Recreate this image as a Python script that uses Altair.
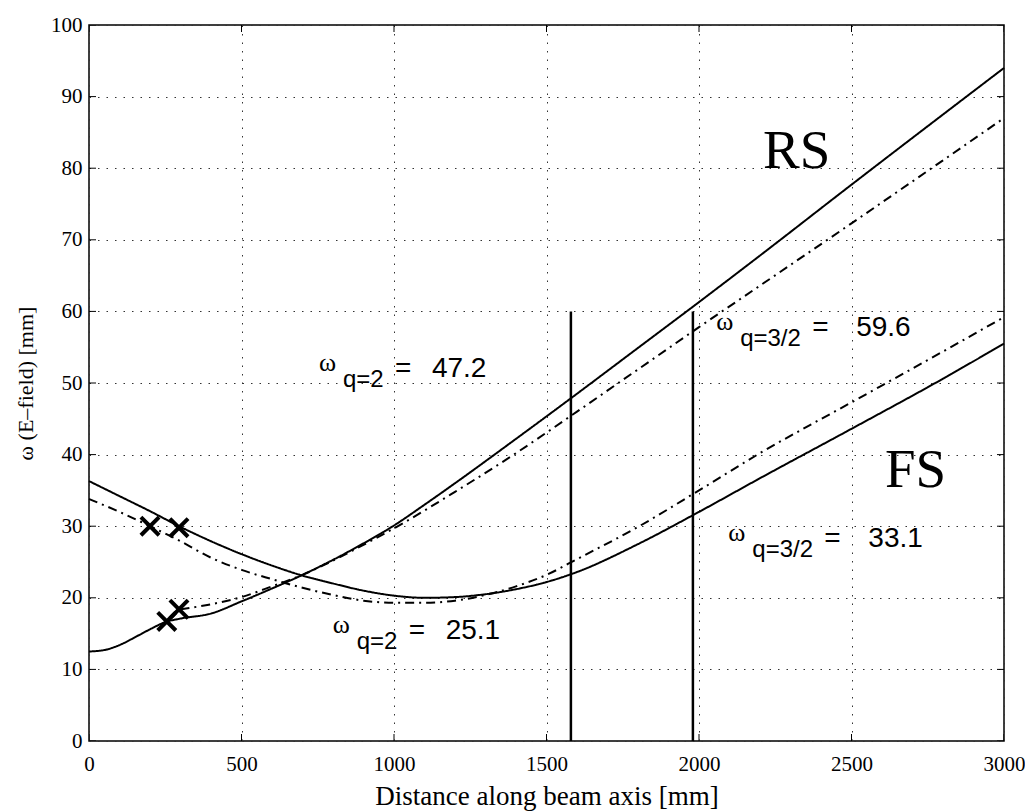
import altair as alt
import pandas as pd

# ---------------- data ----------------
rs_solid_x = [0, 50, 100, 160, 200, 250, 300, 400, 500, 600, 700, 800, 900, 1000, 1100,
              1200, 1400, 1600, 1800, 2000, 2200, 2500, 2800, 3000]
rs_solid_y = [12.5, 12.7, 13.4, 14.7, 15.6, 16.6, 17.1, 17.8, 19.5, 21.3, 23.2, 25.3, 27.6, 30.1, 33.0,
              36.0, 42.2, 48.5, 54.9, 61.3, 67.8, 77.7, 87.5, 94.0]

rs_dash_x = [300, 400, 500, 600, 700, 800, 900, 1000, 1200, 1400, 1600, 1800, 2000,
             2200, 2500, 2800, 3000]
rs_dash_y = [18.4, 19.1, 20.1, 21.6, 23.2, 25.2, 27.4, 29.7, 34.8, 40.2, 46.0, 51.9, 57.8,
             63.6, 72.3, 81.1, 87.0]

fs_solid_x = [0, 100, 200, 300, 400, 500, 600, 700, 800, 900, 1000, 1100, 1200, 1300,
              1400, 1500, 1600, 1800, 2000, 2200, 2500, 2800, 3000]
fs_solid_y = [36.3, 34.2, 32.1, 29.9, 27.9, 26.1, 24.5, 23.1, 22.0, 21.0, 20.3, 20.0, 20.1, 20.5,
              21.2, 22.2, 23.6, 27.5, 32.0, 36.7, 43.6, 50.6, 55.5]

fs_dash_x = [0, 100, 200, 300, 400, 500, 600, 700, 800, 900, 1000, 1100, 1200, 1300,
             1400, 1500, 1600, 1800, 2000, 2200, 2500, 2800, 3000]
fs_dash_y = [33.8, 32.0, 30.0, 27.9, 25.6, 23.9, 22.6, 21.4, 20.4, 19.6, 19.3, 19.3, 19.6, 20.4,
             21.6, 23.2, 25.4, 29.9, 35.0, 40.2, 47.3, 54.4, 59.2]

marker_x = [200, 295, 255, 295]
marker_y = [30.0, 29.8, 16.7, 18.4]

vline_x = [1580, 1980]
vline_top = [60, 60]

ann_x = [1003, 2371, 1048, 2411]
ann_y = [50.9, 56.5, 14.3, 27.1]
ann_sub = ["q=2", "q=3/2", "q=2", "q=3/2"]
ann_val = ["47.2", "59.6", "25.1", "33.1"]

label_text = ["RS", "FS"]
label_x = [2320, 2710]
label_y = [80.0, 35.5]

x_ticks = [0, 500, 1000, 1500, 2000, 2500, 3000]
y_ticks = [0, 10, 20, 30, 40, 50, 60, 70, 80, 90, 100]

# ---------------- tables ----------------
rows = []
for name, style, xs, ys in [("rs_solid", "solid", rs_solid_x, rs_solid_y),
                            ("rs_dash", "dashdot", rs_dash_x, rs_dash_y),
                            ("fs_solid", "solid", fs_solid_x, fs_solid_y),
                            ("fs_dash", "dashdot", fs_dash_x, fs_dash_y)]:
    for xv, yv in zip(xs, ys):
        rows.append({"x": xv, "y": yv, "series": name, "style": style})
lines_df = pd.DataFrame(rows)
markers_df = pd.DataFrame({"x": marker_x, "y": marker_y})
vlines_df = pd.DataFrame({"x": vline_x, "y": [0] * len(vline_x), "y2": vline_top})
ann_df = pd.DataFrame({"x": ann_x, "y": ann_y, "sub": ann_sub, "val": ann_val})
lab_df = pd.DataFrame({"x": label_x, "y": label_y, "t": label_text})
xt_df = pd.DataFrame({"x": x_ticks})
yt_df = pd.DataFrame({"y": y_ticks})

W, H = 915, 716
SERIF = "Liberation Serif"
SANS = "Liberation Sans"

xscale = alt.Scale(domain=[0, 3000], nice=False, zero=False)
yscale = alt.Scale(domain=[0, 100], nice=False, zero=False)
xaxis = alt.Axis(values=x_ticks, format="d", title="Distance along beam axis [mm]", grid=True,
                 gridDash=[1.5, 7], gridColor="#333", gridWidth=1, ticks=False, domain=False,
                 labelFont=SERIF, labelFontSize=21, labelColor="black", labelPadding=12,
                 labelFlush=False, titleFont=SERIF, titleFontSize=27, titleFontWeight="normal",
                 titleColor="black", titleX=W / 2, titleY=63, titleBaseline="alphabetic")
yaxis = alt.Axis(values=y_ticks, format="d", title="ω (E–field) [mm]", grid=True,
                 gridDash=[1.5, 7], gridColor="#333", gridWidth=1, ticks=False, domain=False,
                 labelFont=SERIF, labelFontSize=21, labelColor="black", labelPadding=7,
                 labelFlush=False, titleFont=SERIF, titleFontSize=22, titleFontWeight="normal",
                 titleColor="black", titleAngle=-90, titleX=-64, titleY=H / 2,
                 titleAlign="center", titleBaseline="middle")
X = alt.X("x:Q", scale=xscale, axis=xaxis)
Y = alt.Y("y:Q", scale=yscale, axis=yaxis)

lines = alt.Chart(lines_df).mark_line(color="black", strokeWidth=2, interpolate="monotone").encode(
    x=X, y=Y, detail="series:N",
    strokeDash=alt.StrokeDash("style:N", scale=alt.Scale(domain=["solid", "dashdot"],
                                                         range=[[1, 0], [9, 5, 2, 5]]),
                              legend=None))

vlines = alt.Chart(vlines_df).mark_rule(color="black", strokeWidth=2.5).encode(
    x=X, y=Y, y2="y2:Q")

markers = alt.Chart(markers_df).mark_point(
    shape="M-1,-1L1,1M1,-1L-1,1", size=330, color="black", strokeWidth=4, filled=False,
    opacity=1).encode(x=X, y=Y)

layers = [lines, vlines, markers]

# annotation pieces
for subs, w_dx, s_dx, n_dx in [("q=2", -76, -52, 37), ("q=3/2", -96, -72, 44)]:
    base = alt.Chart(ann_df).transform_filter(alt.datum.sub == subs)
    layers.append(base.mark_text(text="ω", font=SERIF, fontSize=26, align="left",
                                 baseline="alphabetic", dx=w_dx, dy=-6, color="black")
                  .encode(x=X, y=Y))
    layers.append(base.mark_text(font=SANS, fontSize=24, align="left",
                                 baseline="alphabetic", dx=s_dx, dy=10, color="black")
                  .encode(x=X, y=Y, text="sub:N"))
    layers.append(base.mark_text(text="=", font=SANS, fontSize=28, align="left",
                                 baseline="alphabetic", dx=0, color="black")
                  .encode(x=X, y=Y))
    layers.append(base.mark_text(font=SANS, fontSize=28, align="left",
                                 baseline="alphabetic", dx=n_dx, color="black")
                  .encode(x=X, y=Y, text="val:N"))

labels = alt.Chart(lab_df).mark_text(font=SERIF, fontSize=55, align="center",
                                     baseline="alphabetic", color="black").encode(
    x=X, y=Y, text="t:N")
layers.append(labels)

# inward ticks on all four sides
for yv in [0, H]:
    layers.append(alt.Chart(xt_df).mark_tick(orient="vertical", size=14, thickness=1,
                                             color="black", clip=True, opacity=1)
                  .encode(x=X, y=alt.value(yv)))
for xv in [0, W]:
    layers.append(alt.Chart(yt_df).mark_tick(orient="horizontal", size=14, thickness=1,
                                             color="black", clip=True, opacity=1)
                  .encode(y=Y, x=alt.value(xv)))

chart = alt.layer(*layers).properties(
    width=W, height=H,
    autosize=alt.AutoSizeParams(type="none"),
    padding={"left": 89, "top": 25, "right": 21, "bottom": 71},
    background="white",
).configure_view(stroke="black", strokeWidth=1.5).configure_axis(
    labelFont=SERIF, titleFont=SERIF
)

chart.save("out.html", embed_options={"renderer": "svg", "actions": False})
